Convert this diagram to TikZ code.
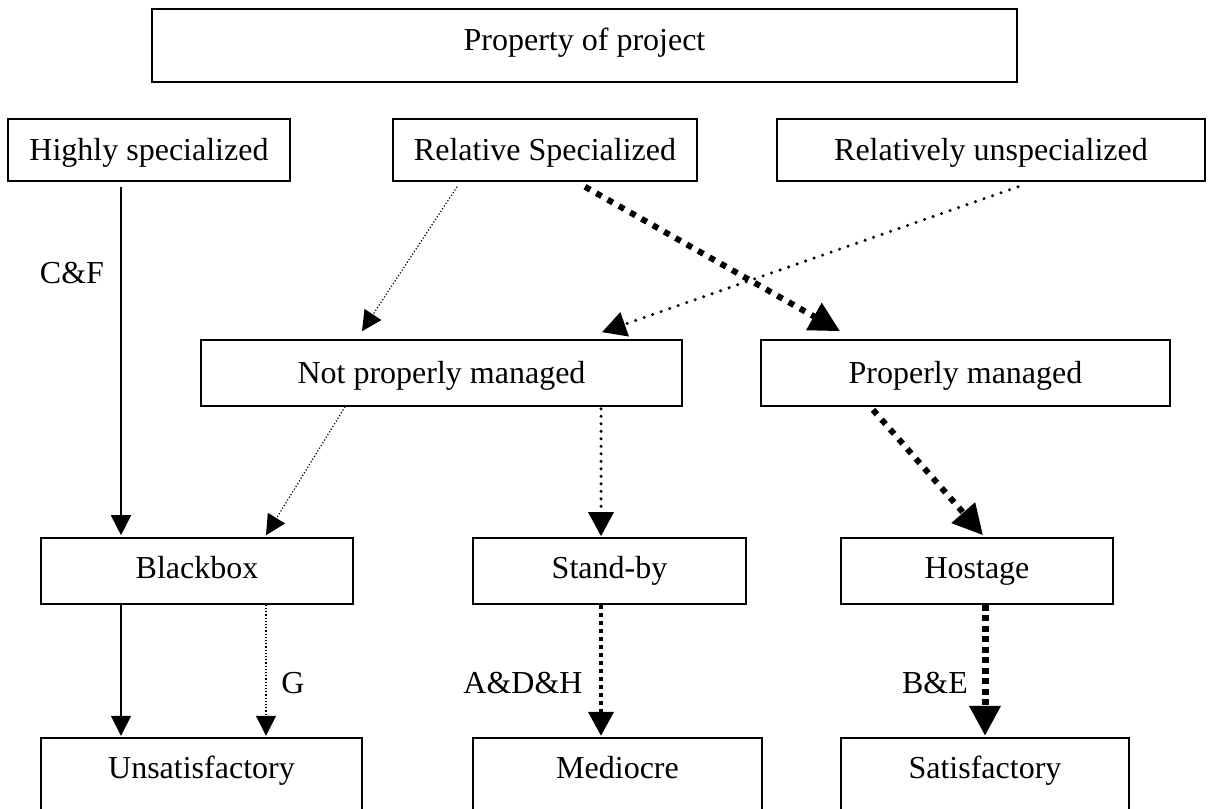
\documentclass[tikz,border=0pt]{standalone}
\usepackage{fontspec}
\setmainfont{Liberation Serif}
\usetikzlibrary{arrows.meta,calc}
\begin{document}
\begin{tikzpicture}[x=1pt,y=-1pt,
  box/.style={draw, line width=1.6pt, inner sep=0pt, text height=22pt, text depth=7pt,
    font=\fontsize{32}{38}\selectfont},
  openbox/.style={inner sep=0pt, text height=22pt, text depth=7pt,
    font=\fontsize{32}{38}\selectfont},
  lower/.style={text height=24pt, text depth=4pt},
  raise/.style={text height=19.5pt, text depth=9.5pt},
  lbl/.style={inner sep=0pt, font=\fontsize{32}{38}\selectfont},
  tipS/.style={-{Triangle[length=20pt,width=20pt]}},
  tipM/.style={-{Triangle[length=24pt,width=25pt]}},
  tipL/.style={-{Triangle[length=30pt,width=30pt]}},
  solidln/.style={line width=1.6pt, tipS},
  thindot/.style={line width=1.2pt, dash pattern=on 1.2pt off 2pt, tipS},
  rounddot/.style={line width=3.4pt, line cap=round, dash pattern=on 0pt off 9pt, tipM},
  rounddotb/.style={line width=3.4pt, line cap=round, dash pattern=on 0pt off 7.5pt, tipM},
  squaredot/.style={line width=4pt, dash pattern=on 4pt off 4pt, tipM},
  thickdash/.style={line width=6pt, dash pattern=on 6pt off 7pt, tipL},
  heavydash/.style={line width=7pt, dash pattern=on 6pt off 4.5pt, tipL}
]
\useasboundingbox (0,0) rectangle (1209,808);
\clip (0,0) rectangle (1209,808);

% top
\node[box, raise, minimum width=865pt, minimum height=73pt] (top) at (584.5,45.5) {Property of project};
% row 2
\node[box, lower, minimum width=282pt, minimum height=62pt] (hs) at (149,150) {Highly specialized};
\node[box, lower, minimum width=304pt, minimum height=62pt] (rs) at (545,150) {Relative Specialized};
\node[box, lower, minimum width=428pt, minimum height=62pt] (ru) at (991,150) {Relatively unspecialized};
% row 3
\node[box, lower, minimum width=481pt, minimum height=66pt] (np) at (441.5,373) {Not properly managed};
\node[box, lower, minimum width=409pt, minimum height=66pt] (pm) at (965.5,373) {Properly managed};
% row 4
\node[box, minimum width=312pt, minimum height=66pt] (bb) at (197,571) {Blackbox};
\node[box, minimum width=273pt, minimum height=66pt] (sb) at (609.5,571) {Stand-by};
\node[box, minimum width=272pt, minimum height=66pt] (hg) at (977,571) {Hostage};
% row 5 (cut off at the bottom)
\node[openbox, minimum width=321pt, minimum height=66pt] (un) at (201.5,771) {Unsatisfactory};
\node[openbox, minimum width=289pt, minimum height=66pt] (me) at (617.5,771) {Mediocre};
\node[openbox, minimum width=288pt, minimum height=66pt] (sf) at (985,771) {Satisfactory};
\foreach \n in {un,me,sf}
  \draw[line width=1.6pt] (\n.north west) rectangle ([yshift=-60pt]\n.south east);

% labels
\node[lbl] (lcf) at (72,273) {C\&F};
\node[lbl] (lg) at (293,683) {G};
\node[lbl] (ladh) at (523,683) {A\&D\&H};
\node[lbl] (lbe) at (935,683) {B\&E};

% connectors
\draw[solidln] ([xshift=-28pt,yshift=-5pt]hs.south) -- ([xshift=-76pt,yshift=2pt]bb.north);
\draw[thindot] ([xshift=-88pt,yshift=-5pt]rs.south) -- ([xshift=-79.5pt,yshift=8pt]np.north);
\draw[thickdash] ([xshift=40pt,yshift=-5pt]rs.south) -- ([xshift=-125.5pt,yshift=8pt]pm.north);
\draw[rounddot] ([xshift=27pt,yshift=-5pt]ru.south) -- ([xshift=160.5pt,yshift=7pt]np.north);
\draw[thindot] ([xshift=-96.5pt]np.south) -- ([xshift=69pt,yshift=2pt]bb.north);
\draw[rounddotb] ([xshift=159.5pt,yshift=-2pt]np.south) -- ([xshift=-8.5pt,yshift=1pt]sb.north);
\draw[thickdash] ([xshift=-92.5pt,yshift=-3pt]pm.south) -- ([xshift=6pt,yshift=2pt]hg.north);
\draw[solidln] ([xshift=-76pt]bb.south) -- ([xshift=-80.5pt,yshift=2pt]un.north);
\draw[thindot] ([xshift=69pt]bb.south) -- ([xshift=64.5pt,yshift=2pt]un.north);
\draw[squaredot] ([xshift=-8.5pt]sb.south) -- ([xshift=-16.5pt,yshift=2pt]me.north);
\draw[heavydash] ([xshift=8pt]hg.south) -- ([xshift=0pt,yshift=2pt]sf.north);
\end{tikzpicture}
\end{document}
